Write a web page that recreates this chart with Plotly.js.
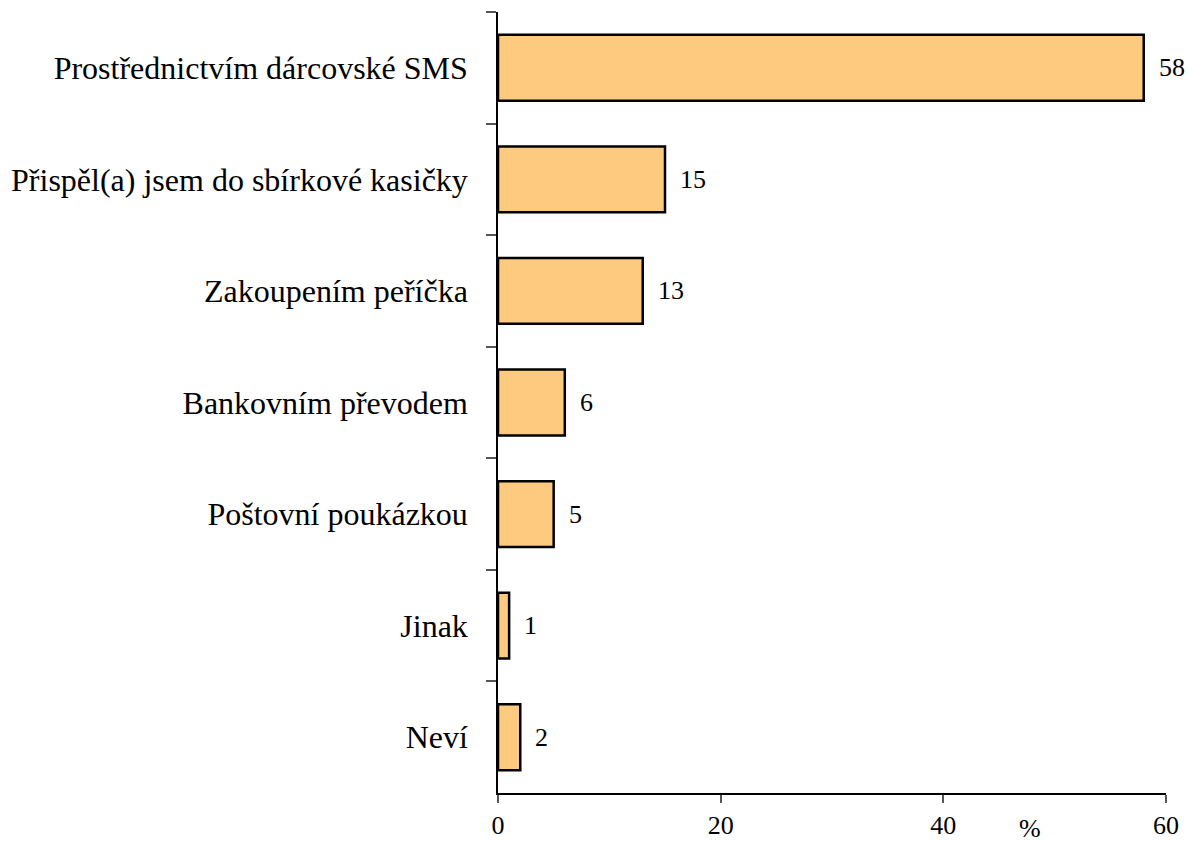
<!DOCTYPE html>
<html>
<head>
<meta charset="utf-8">
<script src="https://cdn.plot.ly/plotly-3.0.1.min.js"></script>
</head>
<body style="margin:0;background:#fff">
<div id="chart"></div>
<script>
const categories = [
  "Prostřednictvím dárcovské SMS",
  "Přispěl(a) jsem do sbírkové kasičky",
  "Zakoupením peříčka",
  "Bankovním převodem",
  "Poštovní poukázkou",
  "Jinak",
  "Neví"
];
const values = [58, 15, 13, 6, 5, 1, 2];
const xTicks = [0, 20, 40, 60];
const unitLabel = "%";

const FAM = '"Liberation Serif", serif';

const trace = {
  type: "bar",
  orientation: "h",
  y: categories,
  x: values,
  marker: {color: "#FECA7F", line: {color: "#000", width: 2.5}}
};

const annotations = categories.map((c, i) => ({
  x: values[i], y: c, xref: "x", yref: "y",
  text: String(values[i]), showarrow: false,
  xanchor: "left", yanchor: "middle", xshift: 13,
  font: {family: FAM, size: 26, color: "#000"}
}));
annotations.push({
  x: (1030 - 498) / (1166 - 498), y: -(829 - 793) / (793 - 12),
  xref: "paper", yref: "paper", text: unitLabel, showarrow: false,
  xanchor: "center", yanchor: "middle",
  font: {family: FAM, size: 26, color: "#000"}
});

const layout = {
  width: 1189, height: 841,
  margin: {l: 498, r: 23, t: 12, b: 48},
  paper_bgcolor: "#fff", plot_bgcolor: "#fff",
  showlegend: false,
  bargap: 0.41,
  font: {family: FAM, color: "#000"},
  xaxis: {
    range: [0, 60], tickvals: xTicks, ticktext: xTicks.map(String),
    showgrid: false, zeroline: false, showline: true, linecolor: "#000", linewidth: 1.5,
    ticks: "outside", ticklen: 8, tickcolor: "#555", tickwidth: 1.5,
    tickfont: {family: FAM, size: 26, color: "#000"}
  },
  yaxis: {
    type: "category", categoryorder: "array", categoryarray: categories,
    autorange: "reversed",
    showgrid: false, zeroline: false, showline: true, linecolor: "#000", linewidth: 1.5,
    ticks: "outside", ticklen: 10, tickcolor: "#555", tickwidth: 1.5, tickson: "boundaries",
    ticklabelstandoff: 22,
    tickfont: {family: FAM, size: 32, color: "#000"}
  },
  annotations: annotations
};

Plotly.newPlot("chart", [trace], layout, {displayModeBar: false});
</script>
</body>
</html>
